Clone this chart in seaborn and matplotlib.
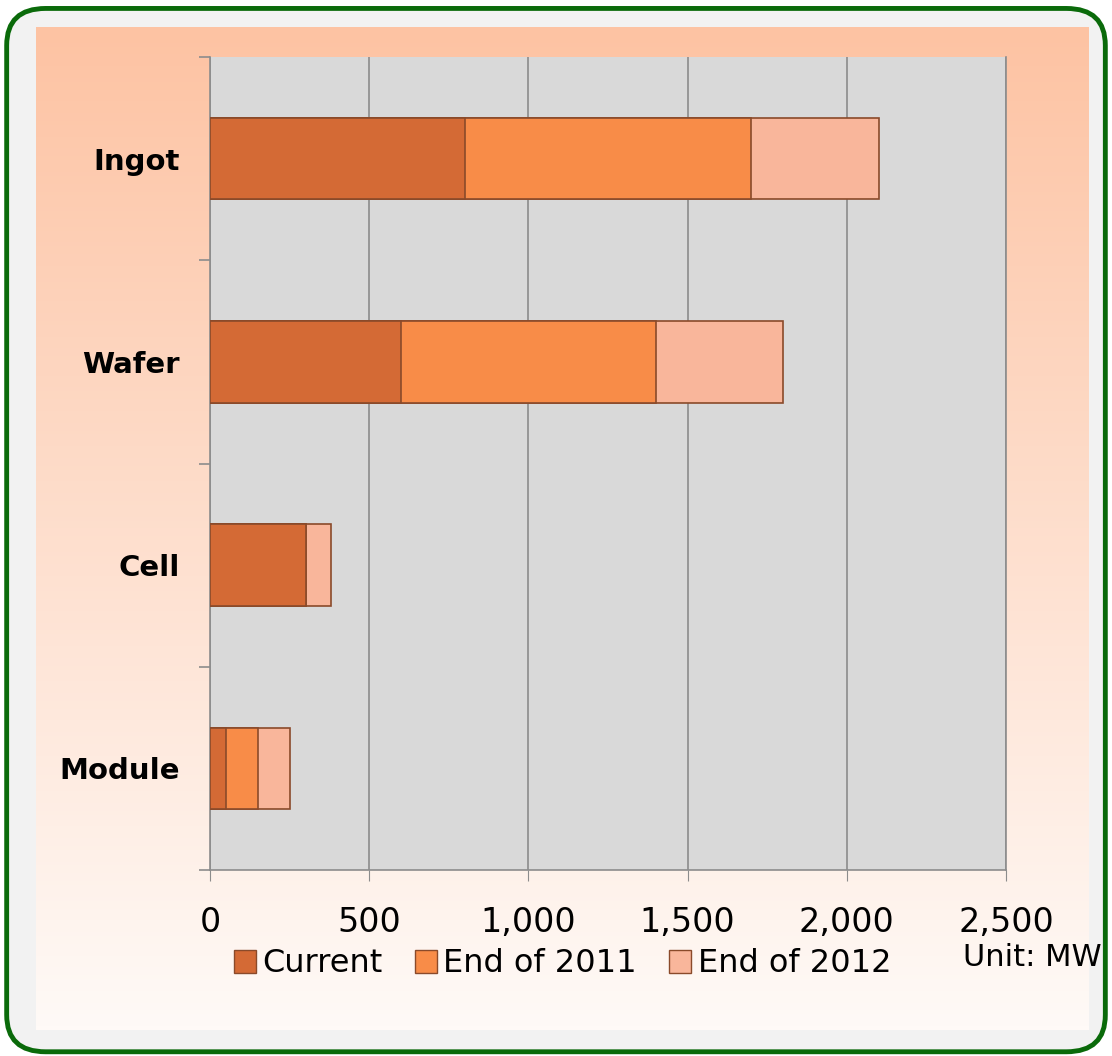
import matplotlib
matplotlib.use('Agg')
import matplotlib.pyplot as plt
import numpy as np
import pandas as pd
import seaborn as sns
from matplotlib.patches import FancyBboxPatch, Patch

# Capacity by production stage (MW)
stages = ['Ingot', 'Wafer', 'Cell', 'Module']
current = [800, 600, 300, 50]
end_2011 = [900, 800, 0, 100]
end_2012 = [400, 400, 80, 100]
series_names = ['Current', 'End of 2011', 'End of 2012']
colors = ['#D46A35', '#F88C48', '#F9B69B']
xticks = [0, 500, 1000, 1500, 2000, 2500]

df = pd.DataFrame({'stage': stages, 'Current': current,
                   'End of 2011': end_2011, 'End of 2012': end_2012})
# cumulative sums for the stacked look
df['c1'] = df['Current']
df['c2'] = df['c1'] + df['End of 2011']
df['c3'] = df['c2'] + df['End of 2012']

sns.set_style('white')
plt.rcParams['font.family'] = ['DejaVu Sans']
plt.rcParams['text.color'] = 'black'
plt.rcParams['xtick.color'] = 'black'
plt.rcParams['ytick.color'] = 'black'

fig = plt.figure(figsize=(11.12, 10.56), dpi=100)
fig.patch.set_facecolor('white')

# outer rounded frame
frame = FancyBboxPatch((0.006, 0.004), 0.988, 0.988,
                       boxstyle='round,pad=0,rounding_size=0.035',
                       transform=fig.transFigure, facecolor='#F2F2F2',
                       edgecolor='#0A6A0A', linewidth=3.5, zorder=-5)
fig.patches.append(frame)

# gradient panel
bg = fig.add_axes([36/1112, 1-1030/1056, (1089-36)/1112, (1030-27)/1056])
bg.set_zorder(1)
top = np.array([253, 195, 163]) / 255
bot = np.array([255, 250, 247]) / 255
t = np.linspace(0, 1, 256)[:, None]
grad = top[None, :] * (1 - t) + bot[None, :] * t
grad = np.repeat(grad[:, None, :], 2, axis=1)
bg.imshow(grad, aspect='auto', extent=[0, 1, 0, 1])
bg.axis('off')

ax = fig.add_axes([210/1112, 1-870/1056, 796/1112, 813/1056])
ax.set_zorder(2)
ax.set_facecolor('#D9D9D9')

for col, c in zip(['c3', 'c2', 'c1'], colors[::-1]):
    sns.barplot(data=df, x=col, y='stage', orient='h', color=c, width=0.4,
                edgecolor='#8A4A2A', linewidth=1.2, ax=ax, saturation=1, zorder=3)

ax.set_xlim(0, 2500)
ax.set_ylim(3.5, -0.5)
ax.set_xticks(xticks)
ax.set_xticklabels([f'{v:,}' for v in xticks], fontsize=24)
ax.grid(axis='x', color='#8C8C8C', linewidth=1.2, zorder=0)
ax.set_axisbelow(True)
ax.tick_params(axis='x', bottom=True, length=8, color='#8C8C8C', pad=18)
ax.set_yticks(range(len(stages)))
ax.set_yticklabels(stages, fontsize=21, fontweight='bold')
ax.tick_params(axis='y', which='major', left=True, length=0, pad=22)
ax.set_yticks(np.arange(-0.5, 4, 1), minor=True)
ax.tick_params(axis='y', which='minor', left=True, length=8, width=1.2,
               color='#8C8C8C')
ax.set_xlabel('')
ax.set_ylabel('')
for s in ['left', 'bottom', 'right']:
    ax.spines[s].set_color('#8C8C8C')
    ax.spines[s].set_linewidth(1.2)
ax.spines['top'].set_visible(False)

handles = [Patch(facecolor=c, edgecolor='#8A4A2A', label=n)
           for n, c in zip(series_names, colors)]
leg = fig.legend(handles=handles, loc='center left', bbox_to_anchor=(205/1112, 1-964/1056),
                 ncol=3, frameon=False, handlelength=0.7, handleheight=0.7,
                 handletextpad=0.2, columnspacing=1.0, prop={'size': 23})
leg.set_zorder(5)
fig.text(1102/1112, 1-958/1056, 'Unit: MW', ha='right', va='center', fontsize=22,
         zorder=5)

fig.savefig('out.png', dpi=100)
